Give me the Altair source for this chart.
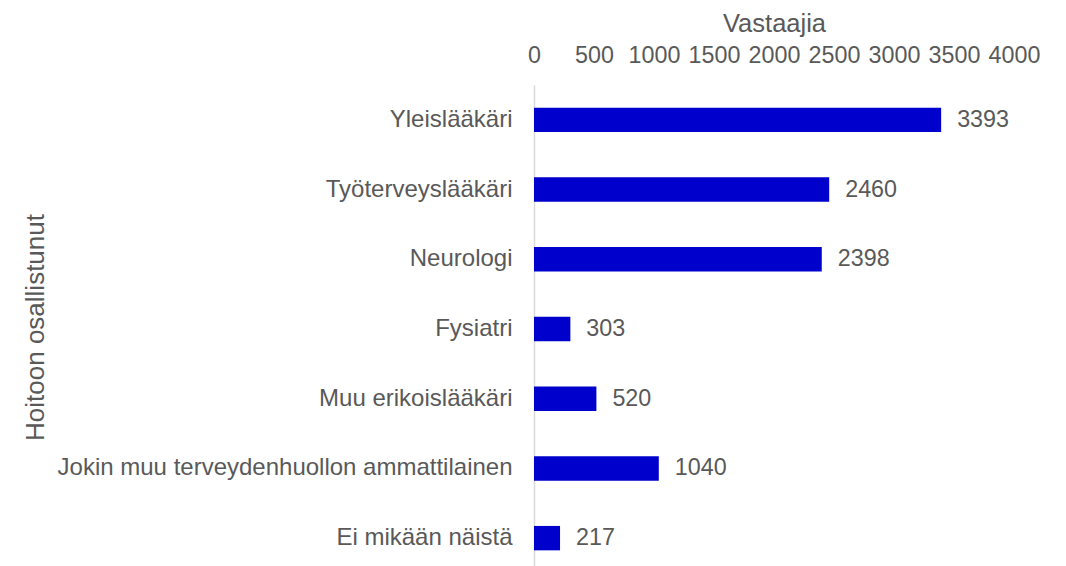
import altair as alt
import pandas as pd

categories = [
    "Yleislääkäri",
    "Työterveyslääkäri",
    "Neurologi",
    "Fysiatri",
    "Muu erikoislääkäri",
    "Jokin muu terveydenhuollon ammattilainen",
    "Ei mikään näistä",
]
values = [3393, 2460, 2398, 303, 520, 1040, 217]
x_ticks = [0, 500, 1000, 1500, 2000, 2500, 3000, 3500, 4000]

df = pd.DataFrame({"cat": categories, "val": values})

FONT = "Liberation Sans"
GREY = "#595959"

y_enc = alt.Y(
    "cat:N",
    sort=categories,
    scale=alt.Scale(paddingInner=0.65, paddingOuter=0.325),
    axis=alt.Axis(
        title="Hoitoon osallistunut",
        titleFont=FONT,
        titleFontSize=26,
        titleFontWeight="normal",
        titleColor=GREY,
        titleAngle=270,
        titleAlign="center",
        titleBaseline="middle",
        titleX=-499,
        titleY=242,
        labelFont=FONT,
        labelFontSize=24,
        labelColor=GREY,
        labelPadding=22,
        ticks=False,
        tickSize=0,
        domain=True,
        domainColor="#d9d9d9",
        domainWidth=1.5,
        grid=False,
        labelLimit=600,
    ),
)

x_enc = alt.X(
    "val:Q",
    scale=alt.Scale(domain=[0, 4000], nice=False),
    axis=alt.Axis(
        orient="top",
        title="Vastaajia",
        titleFont=FONT,
        titleFontSize=25.5,
        titleFontWeight="normal",
        titleColor=GREY,
        titlePadding=7,
        labelFont=FONT,
        labelFontSize=23.3,
        labelColor=GREY,
        labelPadding=18,
        values=x_ticks,
        format="d",
        ticks=False,
        tickSize=0,
        domain=False,
        grid=False,
        labelOverlap=False,
        labelFlush=False,
    ),
)

bars = alt.Chart(df).mark_bar(color="#0000cc").encode(x=x_enc, y=y_enc)

labels = alt.Chart(df).mark_text(
    align="left", baseline="middle", dx=16, font=FONT, fontSize=23.3, color=GREY
).encode(
    x=alt.X("val:Q"),
    y=alt.Y("cat:N", sort=categories),
    text=alt.Text("val:Q"),
)

chart = (
    alt.layer(bars, labels)
    .properties(
        width=480,
        height=488,
        autosize=alt.AutoSizeParams(type="none"),
        padding={"left": 526, "top": 77, "right": 44, "bottom": 0},
    )
    .configure(background="white")
    .configure_view(strokeWidth=0, stroke="transparent")
    .configure_axis(grid=False)
)

chart.save("out.html", embed_options={"renderer": "svg", "actions": False})
